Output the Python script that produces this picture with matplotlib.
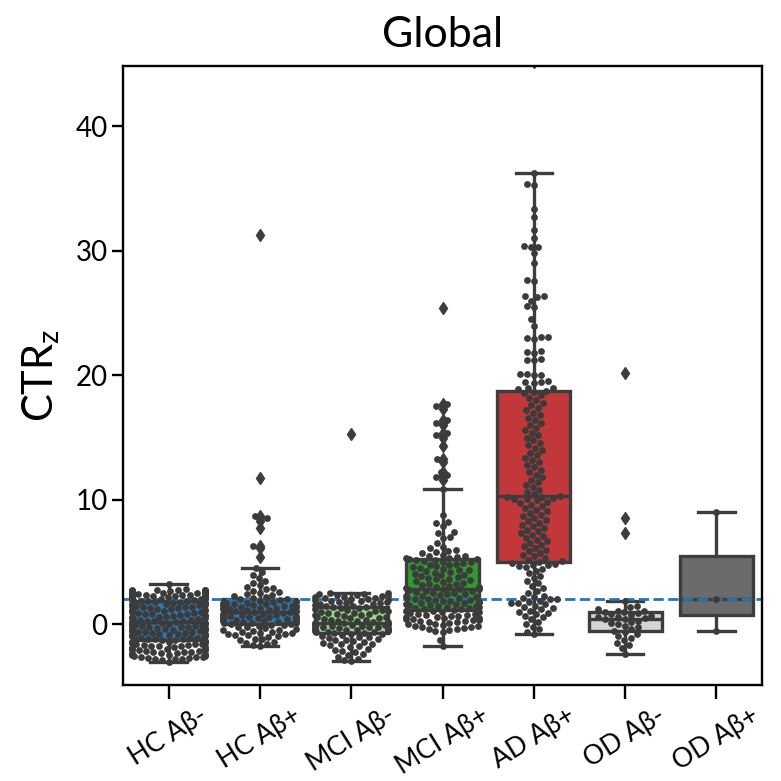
import matplotlib
matplotlib.use("Agg")
import matplotlib.pyplot as plt
import numpy as np
import pandas as pd
import seaborn as sns

plt.rcParams["font.family"] = ["Lato", "DejaVu Sans"]

groups = ["HC Aβ-", "HC Aβ+", "MCI Aβ-", "MCI Aβ+", "AD Aβ+", "OD Aβ-", "OD Aβ+"]
box_colors = ["#2f78b3", "#2f78b3", "#8edf7f", "#2f9a2f", "#c1373a", "#d4d4d4", "#6b6b6b"]
threshold = 2.0

# per-group CTRz values shown as swarm points
hc_neg = [
    -3.05, -2.85, -2.8, -2.78, -2.75, -2.72, -2.7, -2.66, -2.62, -2.6,
    -2.57, -2.55, -2.5, -2.48, -2.45, -2.41, -2.38, -2.35, -2.31, -2.28,
    -2.25, -2.22, -2.2, -2.16, -2.12, -2.1, -2.06, -2.03, -2.0, -1.97,
    -1.93, -1.9, -1.87, -1.84, -1.8, -1.78, -1.74, -1.71, -1.68, -1.65,
    -1.62, -1.58, -1.55, -1.52, -1.49, -1.46, -1.43, -1.4, -1.36, -1.32,
    -1.28, -1.25, -1.22, -1.19, -1.16, -1.13, -1.1, -1.07, -1.04, -1.01,
    -0.98, -0.95, -0.92, -0.9, -0.87, -0.84, -0.81, -0.78, -0.75, -0.72,
    -0.69, -0.66, -0.63, -0.6, -0.57, -0.54, -0.51, -0.48, -0.45, -0.42,
    -0.39, -0.36, -0.33, -0.3, -0.27, -0.24, -0.21, -0.18, -0.15, -0.12,
    -0.09, -0.06, -0.03, 0.0, 0.03, 0.06, 0.08, 0.1, 0.12, 0.14,
    0.16, 0.2, 0.23, 0.27, 0.3, 0.34, 0.37, 0.41, 0.44, 0.48,
    0.51, 0.55, 0.58, 0.62, 0.65, 0.69, 0.72, 0.76, 0.79, 0.83,
    0.86, 0.9, 0.93, 0.97, 1.0, 1.04, 1.07, 1.11, 1.14, 1.18,
    1.21, 1.25, 1.28, 1.32, 1.35, 1.39, 1.42, 1.46, 1.49, 1.53,
    1.56, 1.6, 1.63, 1.67, 1.7, 1.74, 1.77, 1.81, 1.84, 1.88,
    1.91, 1.94, 1.96, 1.99, 2.02, 2.04, 2.07, 2.09, 2.12, 2.14,
    2.17, 2.19, 2.22, 2.24, 2.27, 2.29, 2.32, 2.34, 2.37, 2.39,
    2.42, 2.44, 2.47, 2.49, 2.51, 2.53, 2.55, 2.57, 2.59, 2.61,
    2.63, 2.64, 2.66, 2.67, 2.69, 2.7, 2.72, 2.73, 2.75, 2.76,
    2.78, 2.8, 2.6, 2.65, 2.55, 2.7, 2.5, 2.45, 2.4, 3.25,
]
hc_pos = [
    -1.75, -1.7, -1.6, -1.5, -1.42, -1.3, -1.22, -1.15, -1.05, -0.98,
    -0.9, -0.85, -0.8, -0.76, -0.72, -0.68, -0.62, -0.58, -0.52, -0.47,
    -0.42, -0.36, -0.3, -0.25, -0.2, -0.14, -0.08, -0.03,
    0.0, 0.04, 0.07, 0.1, 0.14, 0.18, 0.2, 0.24, 0.28, 0.3,
    0.33, 0.37, 0.4, 0.44, 0.48, 0.5, 0.53, 0.57, 0.6, 0.63,
    0.67, 0.7, 0.74, 0.78, 0.82, 0.86, 0.9, 0.95,
    1.0, 1.03, 1.07, 1.1, 1.14, 1.18, 1.2, 1.24, 1.27, 1.3,
    1.34, 1.38, 1.4, 1.44, 1.48, 1.5, 1.53, 1.57, 1.6, 1.64,
    1.68, 1.7, 1.74, 1.78, 1.82, 1.86, 1.9, 1.95,
    2.0, 2.05, 2.12, 2.2, 2.28, 2.35, 2.42, 2.5, 2.6, 2.7,
    2.8, 2.9, 3.0, 3.15, 3.3, 3.5, 3.7, 4.0, 4.2, 4.5,
    5.4, 6.1, 6.3, 7.7, 8.3, 8.5, 8.7,
]
mci_neg = [
    -2.95, -2.9, -2.75, -2.6, -2.45, -2.35, -2.25, -2.15, -2.05, -1.95,
    -1.85, -1.78, -1.7, -1.62, -1.55, -1.48, -1.42, -1.36, -1.3, -1.24,
    -1.18, -1.12, -1.06, -1.0, -0.94, -0.88, -0.82, -0.76,
    -0.7, -0.67, -0.64, -0.61, -0.58, -0.55, -0.52, -0.49, -0.46, -0.43,
    -0.4, -0.37, -0.34, -0.31, -0.28, -0.25, -0.22, -0.19, -0.16, -0.13,
    -0.1, -0.07, -0.04, -0.01, 0.02, 0.04, 0.06, 0.08,
    0.1, 0.15, 0.2, 0.24, 0.29, 0.34, 0.38, 0.43, 0.48, 0.52,
    0.57, 0.62, 0.66, 0.71, 0.76, 0.8, 0.85, 0.9, 0.94, 0.99,
    1.04, 1.08, 1.13, 1.18, 1.22, 1.27, 1.32, 1.36,
    1.4, 1.45, 1.5, 1.55, 1.6, 1.64, 1.68, 1.72, 1.76, 1.8,
    1.84, 1.88, 1.92, 1.96, 2.0, 2.04, 2.08, 2.12, 2.16, 2.2,
    2.24, 2.28, 2.32, 2.36, 2.4, 2.45, 2.48, 2.5,
]
mci_pos = [
    -1.75, -1.25, -0.6, -0.5, -0.45, -0.4, -0.35, -0.3, -0.25, -0.2,
    -0.15, -0.1, -0.05, 0.0, 0.05, 0.1, 0.15, 0.2, 0.24, 0.28,
    0.32, 0.36, 0.4, 0.44, 0.48, 0.52, 0.56, 0.6, 0.64, 0.68,
    0.72, 0.76, 0.8, 0.85, 0.9, 0.95, 1.0, 1.05, 1.1,
    1.15, 1.2, 1.24, 1.28, 1.32, 1.36, 1.4, 1.45, 1.5, 1.54,
    1.58, 1.62, 1.66, 1.7, 1.74, 1.78, 1.82, 1.86, 1.9, 1.94,
    1.98, 2.02, 2.06, 2.1, 2.15, 2.2, 2.25, 2.3, 2.35, 2.4,
    2.45, 2.5, 2.55, 2.6, 2.65, 2.7, 2.75, 2.8, 2.83,
    2.85, 2.9, 2.96, 3.02, 3.08, 3.14, 3.2, 3.27, 3.34, 3.4,
    3.47, 3.54, 3.6, 3.67, 3.74, 3.8, 3.87, 3.94, 4.0, 4.07,
    4.14, 4.2, 4.27, 4.34, 4.4, 4.47, 4.54, 4.6, 4.67, 4.74,
    4.8, 4.86, 4.92, 4.98, 5.04, 5.1, 5.15, 5.2, 5.23,
    5.25, 5.3, 5.35, 5.4, 5.45, 5.5, 5.6, 5.7, 5.8, 5.9,
    6.0, 6.1, 6.2, 6.5, 6.9, 7.0, 7.3, 7.4, 7.9, 8.1,
    8.2, 8.8, 10.85,
    11.6, 11.8, 12.0, 12.2, 13.0, 13.3, 14.3, 15.0, 15.2, 15.4,
    16.0, 16.2, 16.4, 17.3, 17.5, 17.7,
]
ad_pos = [
    -0.75, -0.6, -0.4, -0.2, 0.0, 0.2, 0.4, 0.55, 0.7, 0.8,
    0.9, 1.0, 1.1, 1.2, 1.3, 1.4, 1.5, 1.6, 1.7, 1.75,
    1.8, 1.9, 2.0, 2.05, 2.1, 2.2, 2.3, 2.5, 2.7, 2.9,
    3.1, 3.3, 3.5, 3.7, 3.9, 4.1, 4.3, 4.45, 4.6, 4.7,
    4.75, 4.8, 4.85, 4.9,
    5.0, 5.1, 5.2, 5.35, 5.5, 5.6, 5.75, 5.9, 6.0, 6.15,
    6.3, 6.4, 6.55, 6.7, 6.8, 6.95, 7.1, 7.2, 7.35, 7.5,
    7.6, 7.75, 7.9, 8.0, 8.15, 8.3, 8.4, 8.55, 8.7, 8.8,
    8.95, 9.1, 9.2, 9.35, 9.5, 9.6, 9.75, 9.85, 9.95, 10.05,
    10.1, 10.15, 10.2, 10.25,
    10.3, 10.45, 10.6, 10.8, 11.0, 11.2, 11.4, 11.6, 11.8, 12.0,
    12.2, 12.4, 12.6, 12.8, 13.0, 13.2, 13.4, 13.6, 13.8, 14.0,
    14.2, 14.4, 14.6, 14.8, 15.0, 15.2, 15.4, 15.6, 15.8, 16.0,
    16.2, 16.4, 16.6, 16.8, 17.0, 17.2, 17.4, 17.6, 17.8, 18.0,
    18.2, 18.4, 18.55, 18.7,
    18.75, 18.9, 18.95, 19.0, 19.4, 19.45, 19.5, 19.55, 20.0, 20.05,
    20.1, 20.15, 21.2, 21.25, 21.3, 21.8, 21.9, 21.95, 22.9, 23.0,
    23.05, 23.1, 24.0, 24.5, 25.5, 25.55, 26.0, 26.3, 26.35, 26.4,
    27.6, 27.65, 29.0, 29.8, 30.3, 30.35, 30.4, 31.0, 31.7, 32.7,
    33.4, 35.3, 35.4, 36.3,
]
od_neg = [
    -2.4, -1.9, -1.7, -1.5, -1.3, -1.1, -0.95, -0.8, -0.65,
    -0.5, -0.4, -0.25, -0.1, 0.0, 0.1, 0.2, 0.3, 0.4,
    0.45, 0.5, 0.55, 0.6, 0.68, 0.75, 0.82, 0.9, 0.95,
    1.0, 1.05, 1.1, 1.2, 1.35, 1.5, 1.9,
]
od_pos = [-0.5, 2.0, 9.0]

# extreme values that only enter the box statistics (drawn as fliers)
hc_neg_ext = []
hc_pos_ext = [11.75, 31.3]
mci_neg_ext = [15.3]
mci_pos_ext = [25.4]
ad_pos_ext = [45.2]
od_neg_ext = [7.3, 8.5, 20.2]
od_pos_ext = []

swarm_vals = [hc_neg, hc_pos, mci_neg, mci_pos, ad_pos, od_neg, od_pos]
extreme_vals = [hc_neg_ext, hc_pos_ext, mci_neg_ext, mci_pos_ext,
                ad_pos_ext, od_neg_ext, od_pos_ext]

line_gray = "#3d3d3d"

fig = plt.figure(figsize=(7.81, 7.81), dpi=100)
ax = fig.add_axes([0.1575, 0.1229, 0.8182, 0.7926])

box_data = [np.array(s + e) for s, e in zip(swarm_vals, extreme_vals)]
bp = ax.boxplot(
    box_data, positions=np.arange(len(groups)), widths=0.8,
    patch_artist=True, capwidths=0.4, whis=1.5,
    boxprops=dict(edgecolor=line_gray, linewidth=2.4),
    whiskerprops=dict(color=line_gray, linewidth=2.4),
    capprops=dict(color=line_gray, linewidth=2.4),
    medianprops=dict(color=line_gray, linewidth=2.4),
    flierprops=dict(marker="d", markerfacecolor=line_gray,
                    markeredgecolor=line_gray, markersize=6.5),
    zorder=1,
)
for patch, col in zip(bp["boxes"], box_colors):
    patch.set_facecolor(col)

ax.axhline(threshold, color="#1f77b4", linestyle="--", linewidth=2.0, zorder=2.5)

df = pd.DataFrame({
    "group": np.repeat(groups, [len(v) for v in swarm_vals]),
    "ctr": np.concatenate(swarm_vals),
})
sns.swarmplot(data=df, x="group", y="ctr", order=groups, color="#3b3b3b",
              size=4.9, linewidth=0, ax=ax, zorder=3)

ax.set_xlim(-0.5, len(groups) - 0.5)
ax.set_ylim(-4.88, 44.86)
ax.set_yticks([0, 10, 20, 30, 40])
ax.set_xticks(np.arange(len(groups)))
ax.set_xticklabels(groups, rotation=32, ha="center", fontsize=19)
ax.tick_params(axis="y", labelsize=20, length=8, width=1.7, pad=3)
ax.tick_params(axis="x", length=10, width=1.7, pad=3)
for sp in ax.spines.values():
    sp.set_linewidth(1.7)
    sp.set_color("black")

ax.set_xlabel("")
ax.set_ylabel("CTR$_\\mathregular{z}$", fontsize=30, labelpad=10)
ax.set_title("Global", fontsize=31, pad=14)

fig.savefig("out.png", dpi=100)
